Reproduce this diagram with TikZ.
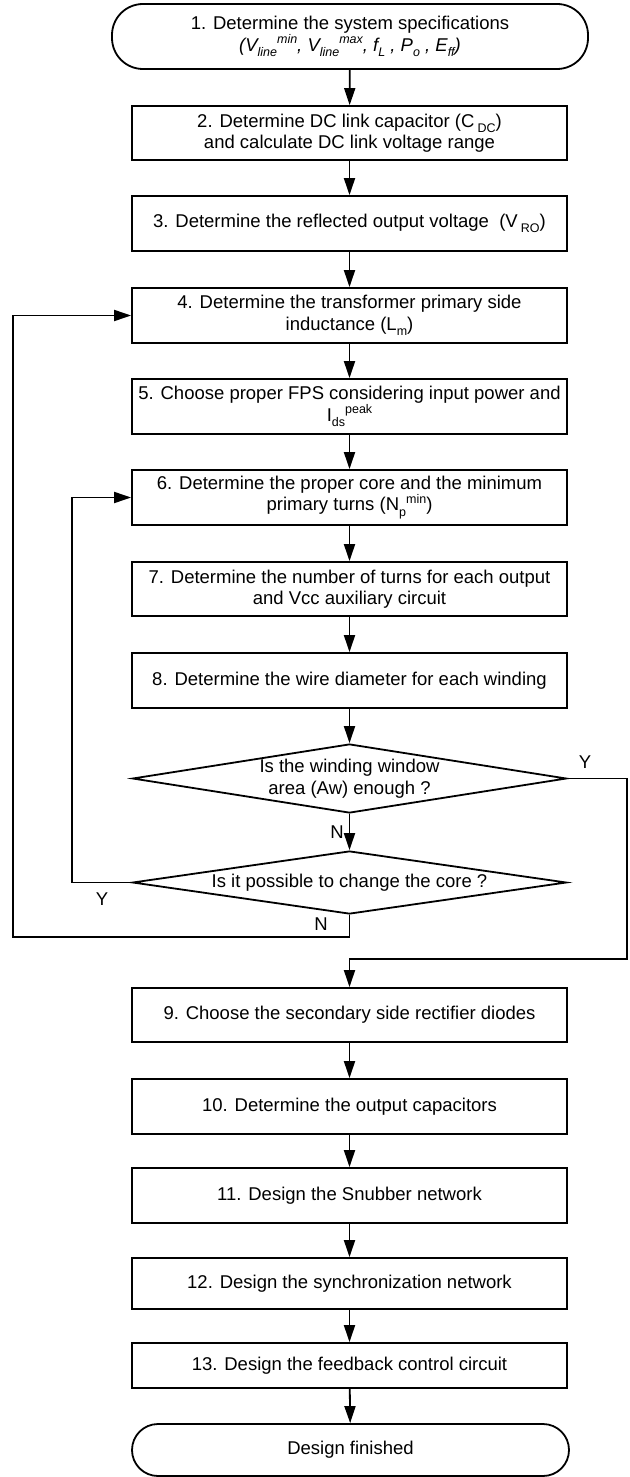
\documentclass[tikz,border=0pt]{standalone}
\usepackage{fontspec}
\setmainfont{Liberation Sans}
\usetikzlibrary{arrows.meta,shapes.geometric}
\newcommand{\dn}[1]{\raisebox{-0.3em}{\fontsize{12.5pt}{12.5pt}\selectfont #1}}
\newcommand{\up}[1]{\raisebox{0.42em}{\fontsize{12.5pt}{12.5pt}\selectfont #1}}
\tikzset{
  txt/.style={font=\fontsize{18.5pt}{21.5pt}\selectfont, align=center, inner sep=0pt},
  stepbox/.style={txt, draw, line width=1.8pt, rectangle, minimum width=435pt},
  term/.style={txt, draw, line width=1.8pt, rectangle, rounded corners=31pt},
  decide/.style={txt, draw, line width=1.8pt, diamond, minimum width=434pt},
  lab/.style={txt},
  arr/.style={line width=1.8pt, -{Triangle[length=17pt,width=11pt]}}
}
\begin{document}
\begin{tikzpicture}[x=1pt,y=-1pt]
\useasboundingbox (0,0) rectangle (629,1477);
\node[term, minimum width=476pt, minimum height=65pt] (t1) at (350,36.5)
  {1. Determine the system specifications\\
   \textit{(V\dn{line}\up{min}, V\dn{line}\up{max}, f\dn{L} , P\dn{o} , E\dn{ff})}};
\node[stepbox, minimum height=54pt] (b2) at (349.5,133)
  {2. Determine DC link capacitor (C\,\dn{DC})\\and calculate DC link voltage range};
\node[stepbox, minimum height=55pt] (b3) at (349.5,223.5)
  {3. Determine the reflected output voltage\ \ (V\,\dn{RO})};
\node[stepbox, minimum height=55pt] (b4) at (349.5,315.5)
  {4. Determine the transformer primary side\\inductance (L\dn{m})};
\node[stepbox, minimum height=55pt] (b5) at (349.5,406.5)
  {5. Choose proper FPS considering input power and\\I\dn{ds}\up{peak}};
\node[stepbox, minimum height=55pt] (b6) at (349.5,497.5)
  {6. Determine the proper core and the minimum\\primary turns (N\dn{p}\up{min})};
\node[stepbox, minimum height=54pt] (b7) at (349.5,589)
  {7. Determine the number of turns for each output\\and Vcc auxiliary circuit};
\node[stepbox, minimum height=55pt] (b8) at (349.5,680.5)
  {8. Determine the wire diameter for each winding};
\node[decide, minimum height=69pt, aspect=6.3] (d1) at (349.5,778.5)
  {Is the winding window\\area (Aw) enough ?};
\node[decide, minimum height=63pt, aspect=6.9] (d2) at (349.5,882.5)
  {Is it possible to change the core ?};
\node[stepbox, minimum height=54pt] (b9) at (349.5,1015)
  {9. Choose the secondary side rectifier diodes};
\node[stepbox, minimum height=55pt] (b10) at (349.5,1106.5)
  {10. Determine the output capacitors};
\node[stepbox, minimum height=55pt] (b11) at (349.5,1195.5)
  {11. Design the Snubber network};
\node[stepbox, minimum height=51pt] (b12) at (349.5,1283.5)
  {12. Design the synchronization network};
\node[stepbox, minimum height=45pt] (b13) at (349.5,1365.5)
  {13. Design the feedback control circuit};
\node[term, minimum width=437pt, minimum height=52pt, rounded corners=26pt] (t2) at (350.5,1450)
  {Design finished};
% labels
\node[lab] (yA) at (585,762) {Y};
\node[lab] (nA) at (337,832) {N};
\node[lab] (yB) at (102,899) {Y};
\node[lab] (nB) at (321,924) {N};
% helper coordinates
\coordinate (rr) at (627,959);
\coordinate (ll) at (13,937);
\coordinate (lm) at (72,0);
% connectors
\draw[arr] (t1) -- (b2);
\draw[arr] (b2) -- (b3);
\draw[arr] (b3) -- (b4);
\draw[arr] (b4) -- (b5);
\draw[arr] (b5) -- (b6);
\draw[arr] (b6) -- (b7);
\draw[arr] (b7) -- (b8);
\draw[arr] (b8) -- (d1);
\draw[arr] (d1) -- (d2);
\draw[arr] (d1.east) -| (rr) -| (b9.north);
\draw[arr] (d2.west) -- (d2.west -| lm) |- (b6.west);
\draw[arr] (d2.south) |- (ll) |- (b4.west);
\draw[arr] (b9) -- (b10);
\draw[arr] (b10) -- (b11);
\draw[arr] (b11) -- (b12);
\draw[arr] (b12) -- (b13);
\draw[arr] (b13) -- (t2);
\end{tikzpicture}
\end{document}
